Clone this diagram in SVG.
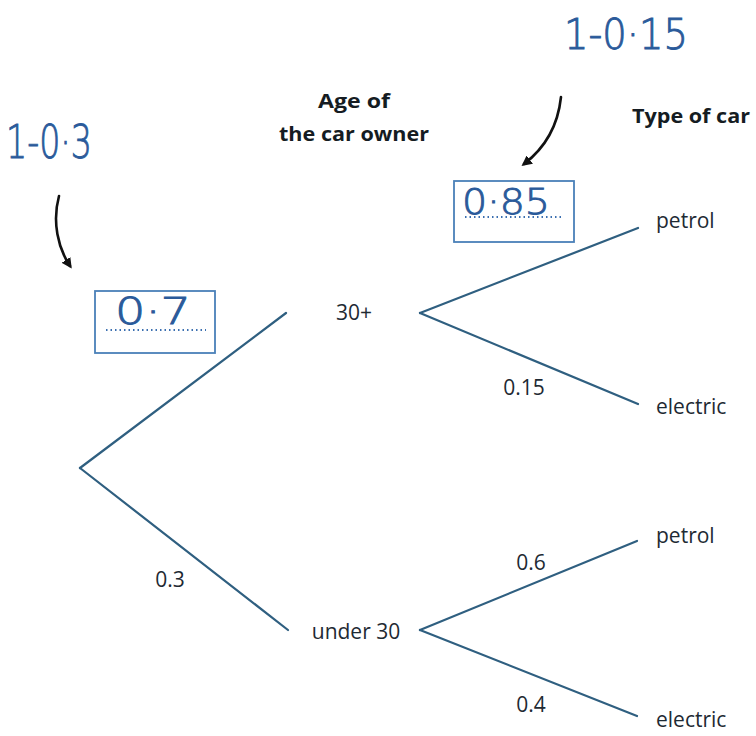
<svg xmlns="http://www.w3.org/2000/svg" width="756" height="736" viewBox="0 0 756 736">
<defs>
<style>
.br{stroke:#2f5f80;stroke-width:2.2;fill:none;stroke-linecap:round}
.lbl{font-family:"Open Sans","Noto Sans",sans-serif;font-size:21px;fill:#1e2a33}
.hd{font-family:"Open Sans","Noto Sans",sans-serif;font-size:19px;font-weight:bold;fill:#151c22}
.hw{font-family:"DejaVu Sans","Noto Sans",sans-serif;font-weight:300;fill:#2a5a9a;stroke:#2a5a9a;stroke-width:0.9}
.box{fill:none;stroke:#4a80b8;stroke-width:1.8}
.dot{stroke:#3b6fb0;stroke-width:2.2;stroke-dasharray:1.5 3;fill:none}
.arr{stroke:#111;stroke-width:2.6;fill:none;stroke-linecap:round}
</style>
<marker id="ah" viewBox="0 0 10 10" refX="7" refY="5" markerWidth="4" markerHeight="4" orient="auto">
<path d="M0,0 L10,5 L0,10 Z" fill="#111"/>
</marker>
</defs>
<rect width="756" height="736" fill="#fff"/>

<g id="headers">
<text class="hd" x="354" y="108" text-anchor="middle" textLength="72" lengthAdjust="spacingAndGlyphs">Age of</text>
<text class="hd" x="354" y="141" text-anchor="middle" textLength="150" lengthAdjust="spacingAndGlyphs">the car owner</text>
<text class="hd" x="632" y="123" textLength="118" lengthAdjust="spacingAndGlyphs">Type of car</text>
</g>

<g id="connectors">
<line class="br" x1="80" y1="468" x2="286" y2="313"/>
<line class="br" x1="80" y1="468" x2="288" y2="630"/>
<line class="br" x1="420" y1="313" x2="638" y2="228"/>
<line class="br" x1="420" y1="313" x2="638" y2="404"/>
<line class="br" x1="420" y1="630" x2="637" y2="541"/>
<line class="br" x1="420" y1="630" x2="637" y2="716"/>
<path class="arr" d="M59,196 C52,222 58,248 70,266" marker-end="url(#ah)"/>
<path class="arr" d="M561,97 C558,125 545,148 524,164" marker-end="url(#ah)"/>
</g>

<g id="node-30plus"><text class="lbl" x="354" y="320" text-anchor="middle">30+</text></g>
<g id="node-under30"><text class="lbl" x="356" y="639" text-anchor="middle">under 30</text></g>
<g id="node-petrol1"><text class="lbl" x="656" y="228">petrol</text></g>
<g id="node-electric1"><text class="lbl" x="656" y="414">electric</text></g>
<g id="node-petrol2"><text class="lbl" x="656" y="543">petrol</text></g>
<g id="node-electric2"><text class="lbl" x="656" y="727">electric</text></g>

<g id="branch-labels">
<text class="lbl" x="524" y="395" text-anchor="middle">0.15</text>
<text class="lbl" x="170" y="587" text-anchor="middle">0.3</text>
<text class="lbl" x="531" y="570" text-anchor="middle">0.6</text>
<text class="lbl" x="531" y="712" text-anchor="middle">0.4</text>
</g>

<g id="box-07">
<rect class="box" x="95" y="291" width="120" height="62"/>
<line class="dot" x1="106" y1="330" x2="206" y2="330"/>
<text class="hw" x="115" y="324" font-size="38" textLength="76" lengthAdjust="spacingAndGlyphs">0·7</text>
</g>
<g id="box-085">
<rect class="box" x="454" y="181" width="120" height="61"/>
<line class="dot" x1="465" y1="217" x2="564" y2="217"/>
<text class="hw" x="462" y="214" font-size="36" textLength="88" lengthAdjust="spacingAndGlyphs">0·85</text>
</g>

<g id="notes">
<text class="hw" x="6" y="158" font-size="46" textLength="86" lengthAdjust="spacingAndGlyphs">1-0·3</text>
<text class="hw" x="564" y="49" font-size="42" textLength="124" lengthAdjust="spacingAndGlyphs">1-0·15</text>
</g>
</svg>
